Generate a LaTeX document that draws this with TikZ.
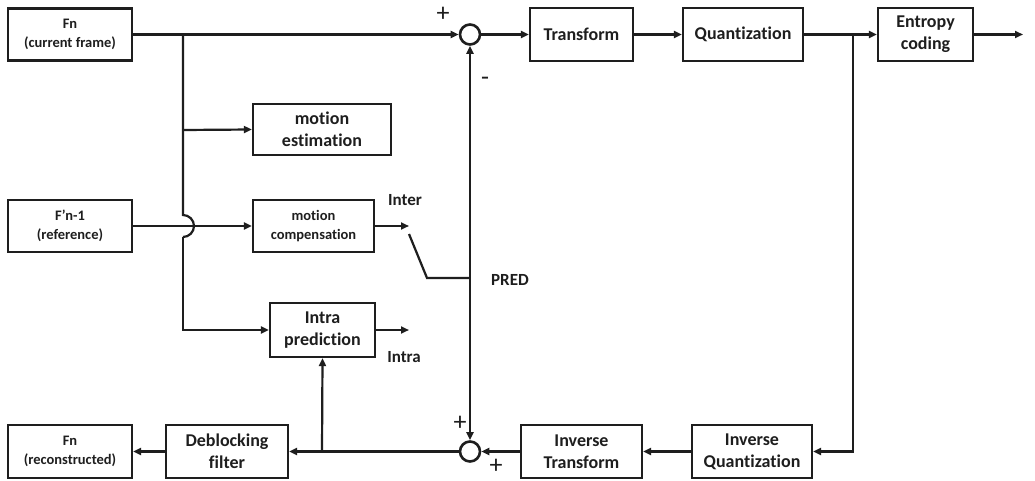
\documentclass[tikz,border=0pt]{standalone}
\usepackage{fontspec}
\setmainfont[Ligatures=NoCommon]{Carlito}
\usetikzlibrary{arrows.meta}
\definecolor{ink}{HTML}{1E1E1E}
\begin{document}
\begin{tikzpicture}[x=1pt,y=-1pt,
  line width=2.2pt, draw=ink, text=ink,
  box/.style={draw=ink,line width=2.2pt,inner sep=0pt,align=center,font=\fontsize{18}{22}\selectfont\bfseries},
  sbox/.style={box,font=\fontsize{14.5}{19}\selectfont\bfseries},
  sumc/.style={draw=ink,circle,line width=2.6pt,minimum size=20pt,inner sep=0pt},
  lbl/.style={inner sep=0pt,font=\fontsize{17}{20}\selectfont\bfseries},
  sgn/.style={inner sep=0pt,font=\fontsize{26}{28}\selectfont},
  arr/.style={-{Triangle[length=8pt,width=7pt]}}]
\path[use as bounding box,fill=white] (0,0) rectangle (1035,481);

\node[sbox,minimum width=124pt,minimum height=52pt] (fn) at (70,34.5) {Fn\\(current frame)};
\node[box,minimum width=138pt,minimum height=51pt] (me) at (322,129.5) {motion\\estimation};
\node[sbox,minimum width=124pt,minimum height=52pt] (ref) at (70,226) {F’n-1\\(reference)};
\node[sbox,minimum width=121pt,minimum height=52pt] (mc) at (313.5,226) {motion\\compensation};
\node[box,minimum width=105pt,minimum height=54pt] (ip) at (322.5,330) {Intra\\prediction};
\node[sbox,minimum width=124pt,minimum height=53pt] (rec) at (70,451.5) {Fn\\(reconstructed)};
\node[box,minimum width=122pt,minimum height=53pt] (df) at (227,451.5) {Deblocking\\filter};
\node[box,minimum width=121pt,minimum height=53pt] (it) at (581.5,451.5) {Inverse\\Transform};
\node[box,minimum width=120pt,minimum height=53pt] (iq) at (752,451.5) {Inverse\\Quantization};
\node[box,minimum width=103pt,minimum height=53pt] (tr) at (581.5,34.5) {Transform};
\node[box,minimum width=120pt,minimum height=53pt] (qu) at (743,34.5) {Quantization};
\node[box,minimum width=95pt,minimum height=53pt] (ec) at (925.5,34.5) {Entropy\\coding};
\node[sumc] (s1) at (470,34.5) {};
\node[sumc] (s2) at (470,451.5) {};

\coordinate (b1) at (183,34.5);
\coordinate (b2) at (183,130);
\coordinate (jt) at (183,215);
\coordinate (jb) at (183,237);
\coordinate (q1) at (853,34.5);
\coordinate (d1) at (322,451.5);
\coordinate (interEnd) at (409,226);
\coordinate (intraEnd) at (409,330);
\coordinate (sw1) at (409,234);
\coordinate (sw2) at (427,278);
\coordinate (pred) at (470,278);
\coordinate (outEnd) at (1023,34.5);

\draw[arr] (fn.east) -- (s1.west);
\draw (b1) -- (jt) arc[start angle=90,end angle=-90,radius=11pt] -- (jb);
\draw[arr] (jb) |- (ip.west);
\draw[arr] (b2) -- (me.west);
\draw[arr] (ref.east) -- (mc.west);
\draw[arr] (mc.east) -- (interEnd);
\draw[arr] (ip.east) -- (intraEnd);
\draw (sw1) -- (sw2) -- (pred);
\draw[arr] (pred) -- (s1.south);
\draw[arr] (pred) -- (s2.north);
\draw[arr] (s1.east) -- (tr.west);
\draw[arr] (tr.east) -- (qu.west);
\draw[arr] (qu.east) -- (ec.west);
\draw[arr] (ec.east) -- (outEnd);
\draw[arr] (q1) |- (iq.east);
\draw[arr] (iq.west) -- (it.east);
\draw[arr] (it.west) -- (s2.east);
\draw[arr] (s2.west) -- (df.east);
\draw[arr] (d1) -- (ip.south);
\draw[arr] (df.west) -- (rec.east);

\node[sgn] (p1) at (443,14) {+};
\node[sgn] (m1) at (485,81) {-};
\node[lbl] (inter) at (405,200) {Inter};
\node[lbl] (predl) at (510,280) {PRED};
\node[lbl] (intra) at (404,357) {Intra};
\node[sgn] (p2) at (460,423) {+};
\node[sgn] (p3) at (496,466) {+};
\end{tikzpicture}
\end{document}
